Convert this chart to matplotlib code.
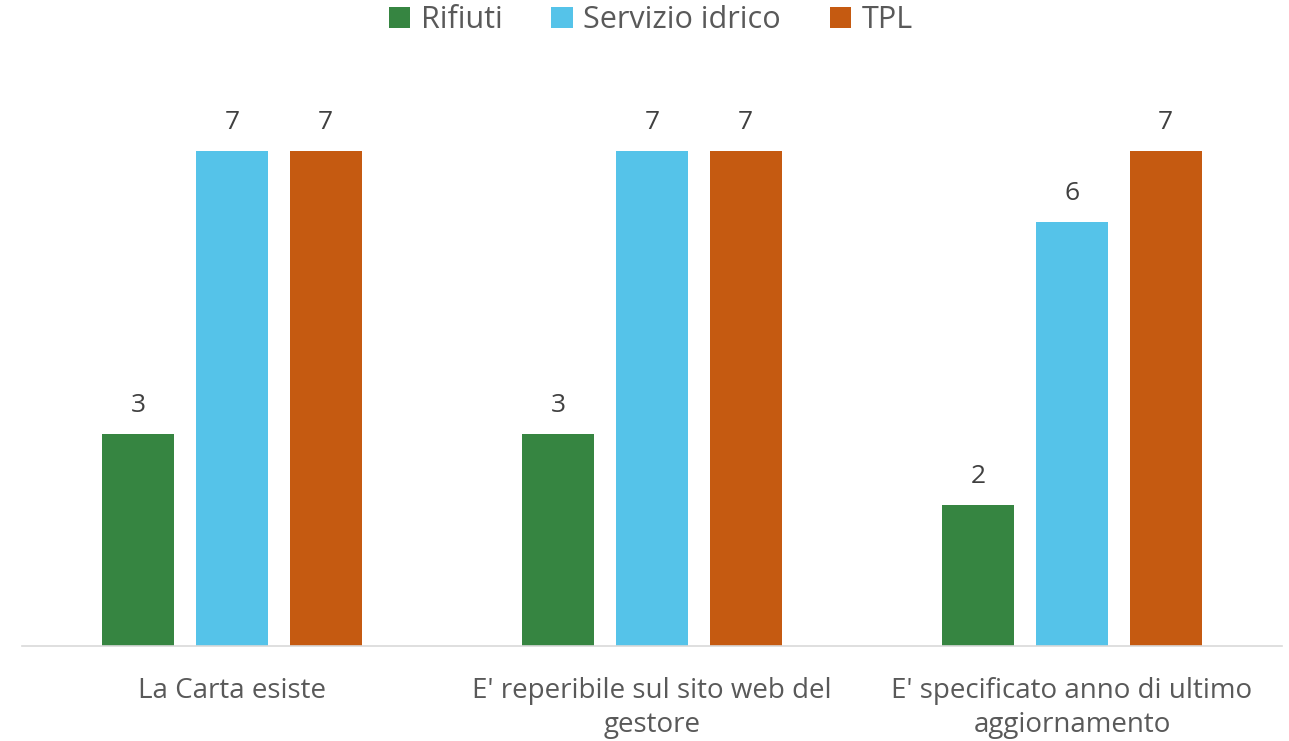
import matplotlib
matplotlib.use("Agg")
import matplotlib.pyplot as plt
import numpy as np

categories = ["La Carta esiste", "E' reperibile sul sito web del\ngestore", "E' specificato anno di ultimo\naggiornamento"]
series_names = ["Rifiuti", "Servizio idrico", "TPL"]
rifiuti = [3, 3, 2]
idrico = [7, 7, 6]
tpl = [7, 7, 7]
colors = ["#368541", "#55C3E9", "#C55A11"]

plt.rcParams['font.family'] = ['Open Sans', 'DejaVu Sans']
text_color = "#595959"

fig = plt.figure(figsize=(12.89, 7.41), dpi=100)
ax = fig.add_axes([0.017, 0.128, 0.9776, 0.764])

x = np.arange(len(categories))
width = 0.171
step = 0.223
for i, (name, vals, c) in enumerate(zip(series_names, [rifiuti, idrico, tpl], colors)):
    pos = x + (i - 1) * step
    bars = ax.bar(pos, vals, width=width, color=c, label=name)
    for b, v in zip(bars, vals):
        ax.text(b.get_x() + b.get_width() / 2, v + 0.22, str(v), ha='center', va='bottom',
                fontsize=19, color="#404040")

ax.set_xlim(-0.5, 2.5)
ax.set_ylim(0, 8)
ax.set_yticks([])
ax.set_xticks(x)
ax.set_xticklabels(categories, fontsize=20, color=text_color, linespacing=1.3)
ax.tick_params(axis='x', length=0, pad=22)
for s in ['top', 'right', 'left']:
    ax.spines[s].set_visible(False)
ax.spines['bottom'].set_color("#D9D9D9")
ax.spines['bottom'].set_linewidth(1.2)

leg = fig.legend(loc='upper center', bbox_to_anchor=(0.505, 1.03), ncol=3, frameon=False,
                 fontsize=22, handlelength=0.7, handleheight=0.7, handletextpad=0.35, columnspacing=1.6)
for t in leg.get_texts():
    t.set_color(text_color)

fig.savefig("out.png", dpi=100)
